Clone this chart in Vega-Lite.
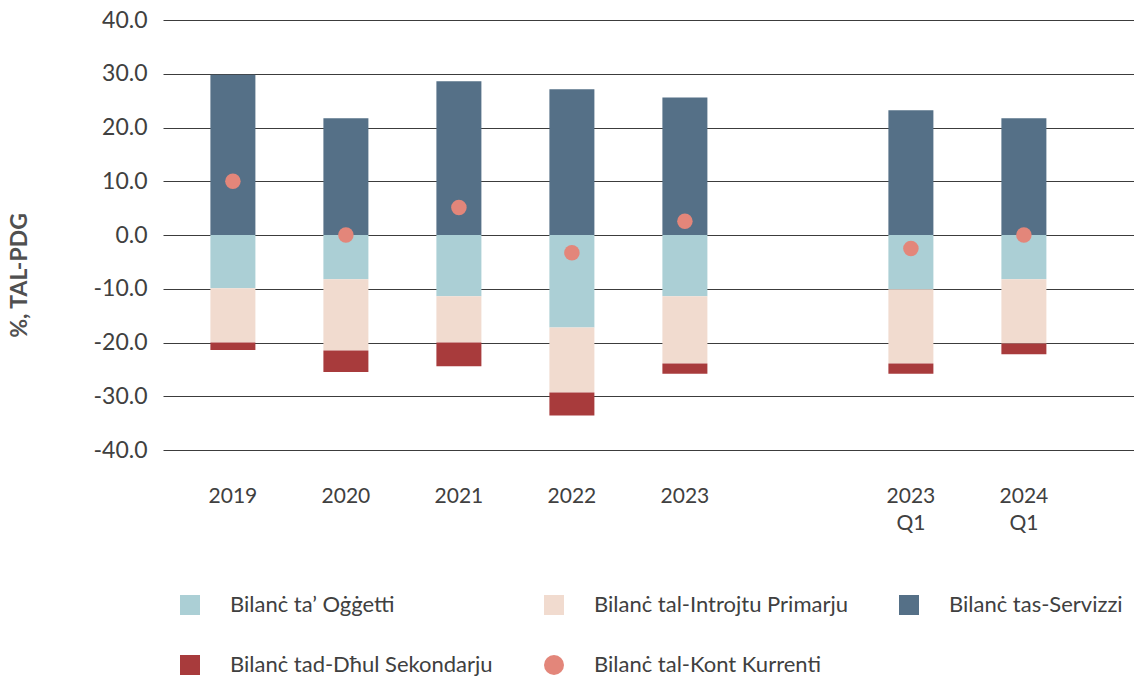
{
  "$schema": "https://vega.github.io/schema/vega-lite/v6.json",
  "width": 971,
  "height": 430,
  "autosize": {"type": "none"},
  "padding": {"left": 163, "top": 20, "right": 0, "bottom": 227},
  "background": "white",
  "data": {
    "values": [
      {"cat": "2019", "series": "Bilanċ ta’ Oġġetti", "ord": 1, "value": -9.9},
      {"cat": "2019", "series": "Bilanċ tal-Introjtu Primarju", "ord": 2, "value": -10.1},
      {"cat": "2019", "series": "Bilanċ tas-Servizzi", "ord": 0, "value": 29.8},
      {"cat": "2019", "series": "Bilanċ tad-Dħul Sekondarju", "ord": 3, "value": -1.4},
      {"cat": "2019", "series": "Bilanċ tal-Kont Kurrenti", "ord": 4, "value": 10.0},
      {"cat": "2020", "series": "Bilanċ ta’ Oġġetti", "ord": 1, "value": -8.25},
      {"cat": "2020", "series": "Bilanċ tal-Introjtu Primarju", "ord": 2, "value": -13.25},
      {"cat": "2020", "series": "Bilanċ tas-Servizzi", "ord": 0, "value": 21.7},
      {"cat": "2020", "series": "Bilanċ tad-Dħul Sekondarju", "ord": 3, "value": -4.0},
      {"cat": "2020", "series": "Bilanċ tal-Kont Kurrenti", "ord": 4, "value": 0.0},
      {"cat": "2021", "series": "Bilanċ ta’ Oġġetti", "ord": 1, "value": -11.4},
      {"cat": "2021", "series": "Bilanċ tal-Introjtu Primarju", "ord": 2, "value": -8.6},
      {"cat": "2021", "series": "Bilanċ tas-Servizzi", "ord": 0, "value": 28.6},
      {"cat": "2021", "series": "Bilanċ tad-Dħul Sekondarju", "ord": 3, "value": -4.4},
      {"cat": "2021", "series": "Bilanċ tal-Kont Kurrenti", "ord": 4, "value": 5.1},
      {"cat": "2022", "series": "Bilanċ ta’ Oġġetti", "ord": 1, "value": -17.2},
      {"cat": "2022", "series": "Bilanċ tal-Introjtu Primarju", "ord": 2, "value": -12.1},
      {"cat": "2022", "series": "Bilanċ tas-Servizzi", "ord": 0, "value": 27.1},
      {"cat": "2022", "series": "Bilanċ tad-Dħul Sekondarju", "ord": 3, "value": -4.3},
      {"cat": "2022", "series": "Bilanċ tal-Kont Kurrenti", "ord": 4, "value": -3.3},
      {"cat": "2023", "series": "Bilanċ ta’ Oġġetti", "ord": 1, "value": -11.4},
      {"cat": "2023", "series": "Bilanċ tal-Introjtu Primarju", "ord": 2, "value": -12.5},
      {"cat": "2023", "series": "Bilanċ tas-Servizzi", "ord": 0, "value": 25.6},
      {"cat": "2023", "series": "Bilanċ tad-Dħul Sekondarju", "ord": 3, "value": -1.9},
      {"cat": "2023", "series": "Bilanċ tal-Kont Kurrenti", "ord": 4, "value": 2.55},
      {"cat": "2023 Q1", "series": "Bilanċ ta’ Oġġetti", "ord": 1, "value": -10.1},
      {"cat": "2023 Q1", "series": "Bilanċ tal-Introjtu Primarju", "ord": 2, "value": -13.8},
      {"cat": "2023 Q1", "series": "Bilanċ tas-Servizzi", "ord": 0, "value": 23.2},
      {"cat": "2023 Q1", "series": "Bilanċ tad-Dħul Sekondarju", "ord": 3, "value": -1.9},
      {"cat": "2023 Q1", "series": "Bilanċ tal-Kont Kurrenti", "ord": 4, "value": -2.5},
      {"cat": "2024 Q1", "series": "Bilanċ ta’ Oġġetti", "ord": 1, "value": -8.25},
      {"cat": "2024 Q1", "series": "Bilanċ tal-Introjtu Primarju", "ord": 2, "value": -11.95},
      {"cat": "2024 Q1", "series": "Bilanċ tas-Servizzi", "ord": 0, "value": 21.7},
      {"cat": "2024 Q1", "series": "Bilanċ tad-Dħul Sekondarju", "ord": 3, "value": -2.0},
      {"cat": "2024 Q1", "series": "Bilanċ tal-Kont Kurrenti", "ord": 4, "value": 0.0}
    ]
  },
  "encoding": {
    "x": {
      "field": "cat",
      "type": "nominal",
      "scale": {
        "domain": ["2019", "2020", "2021", "2022", "2023", " ", "2023 Q1", "2024 Q1"],
        "paddingInner": 0,
        "paddingOuter": 0.2965,
        "align": 0.2
      },
      "axis": {
        "title": null,
        "labelAngle": 0,
        "ticks": false,
        "domain": false,
        "labelPadding": 35,
        "labelFontSize": 21,
        "labelColor": "#404040",
        "labelLineHeight": 27,
        "labelExpr": "split(datum.label, ' ')"
      }
    }
  },
  "layer": [
    {
      "transform": [{"filter": "datum.series !== 'Bilanċ tal-Kont Kurrenti'"}],
      "mark": {"type": "bar", "width": 45},
      "encoding": {
        "y": {
          "field": "value",
          "type": "quantitative",
          "stack": "zero",
          "scale": {"domain": [-40, 40], "nice": false},
          "axis": {
            "title": "%, TAL-PDG",
            "titleFontSize": 23,
            "titleFontWeight": "bold",
            "titleColor": "#505050",
            "titleX": -132,
            "titleY": 255,
            "values": [-40, -30, -20, -10, 0, 10, 20, 30, 40],
            "labelExpr": "replace(format(datum.value, '.1f'), '−', '-')",
            "labelFontSize": 23,
            "labelColor": "#404040",
            "labelPadding": 16,
            "ticks": false,
            "domain": false,
            "grid": true,
            "gridColor": "#3c3c3c",
            "gridWidth": 1
          }
        },
        "color": {
          "field": "series",
          "type": "nominal",
          "scale": {
            "domain": ["Bilanċ ta’ Oġġetti", "Bilanċ tal-Introjtu Primarju", "Bilanċ tas-Servizzi", "Bilanċ tad-Dħul Sekondarju", "Bilanċ tal-Kont Kurrenti"],
            "range": ["#ABCFD5", "#F1DBCF", "#557087", "#A83B3C", "#E3867A"]
          }
        },
        "order": {"field": "ord", "type": "quantitative"}
      }
    },
    {
      "transform": [{"filter": "datum.series === 'Bilanċ tal-Kont Kurrenti'"}],
      "mark": {"type": "point", "filled": true, "opacity": 1, "size": 240},
      "encoding": {
        "y": {"field": "value", "type": "quantitative"},
        "color": {"field": "series", "type": "nominal"},
        "shape": {
          "field": "series",
          "type": "nominal",
          "scale": {
            "domain": ["Bilanċ ta’ Oġġetti", "Bilanċ tal-Introjtu Primarju", "Bilanċ tas-Servizzi", "Bilanċ tad-Dħul Sekondarju", "Bilanċ tal-Kont Kurrenti"],
            "range": ["square", "square", "square", "square", "circle"]
          }
        }
      }
    }
  ],
  "resolve": {"legend": {"color": "shared", "shape": "shared"}},
  "config": {
    "view": {"stroke": null},
    "font": "Lato",
    "axis": {"labelFont": "Lato", "titleFont": "Lato"},
    "legend": {
      "labelFont": "Lato",
      "title": null,
      "orient": "none",
      "direction": "horizontal",
      "legendX": 16,
      "legendY": 574,
      "columns": 3,
      "columnPadding": 50,
      "rowPadding": 38,
      "labelFontSize": 22,
      "labelColor": "#404040",
      "labelOffset": 29,
      "labelLimit": 400,
      "symbolSize": 400,
      "symbolStrokeWidth": 0,
      "symbolOpacity": 1
    }
  }
}
